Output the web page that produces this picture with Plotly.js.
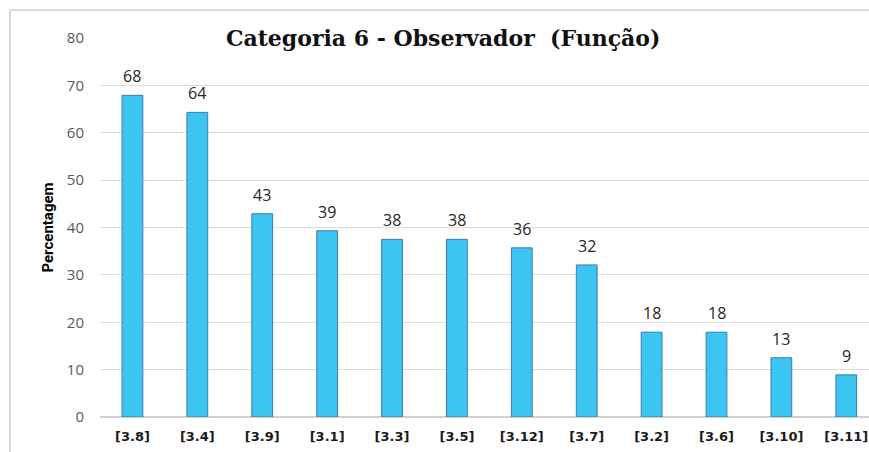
<!DOCTYPE html>
<html>
<head>
<meta charset="utf-8">
<script src="https://cdn.plot.ly/plotly-3.0.1.min.js"></script>
<style>
html,body{margin:0;padding:0;background:#fff;overflow:hidden;}
#chart{width:869px;height:452px;}
</style>
</head>
<body>
<div id="chart"></div>
<script>
var codes = ['[3.8]','[3.4]','[3.9]','[3.1]','[3.3]','[3.5]','[3.12]','[3.7]','[3.2]','[3.6]','[3.10]','[3.11]'];
var percent = [67.9, 64.3, 42.9, 39.3, 37.5, 37.5, 35.7, 32.1, 17.9, 17.9, 12.5, 8.9];
var shown = ['68','64','43','39','38','38','36','32','18','18','13','9'];

var bars = {
  x: codes,
  y: percent,
  type: 'bar',
  width: 0.32,
  marker: {color: '#3BC6F1', line: {color: '#3F78B0', width: 1}},
  hoverinfo: 'none'
};

// value labels above each bar
var labels = codes.map(function(c, i){
  return {
    x: c, y: percent[i], xref: 'x', yref: 'y',
    text: shown[i], showarrow: false,
    yanchor: 'bottom', yshift: 6,
    font: {family: 'Open Sans, sans-serif', size: 16, color: '#262626'}
  };
});

var layout = {
  width: 869,
  height: 452,
  margin: {l: 100, r: 0, t: 38, b: 35},
  paper_bgcolor: '#fff',
  plot_bgcolor: '#fff',
  showlegend: false,
  title: {
    text: 'Categoria 6 - Observador  (Função)',
    font: {family: 'DejaVu Serif, serif', size: 22, color: '#111', weight: 'bold'},
    x: 0.51, xanchor: 'center', y: 0.915, yanchor: 'middle'
  },
  xaxis: {
    type: 'category',
    range: [-0.5, 11.35],
    showgrid: false,
    zeroline: false,
    showline: false,
    ticks: '',
    tickfont: {family: 'DejaVu Sans, sans-serif', size: 13, color: '#1a1a1a', weight: 'bold'},
    ticklabelstandoff: 10
  },
  yaxis: {
    range: [0, 80],
    dtick: 10,
    showgrid: true,
    gridcolor: '#dcdcdc',
    gridwidth: 1,
    zeroline: true,
    zerolinecolor: '#d0d0d0',
    zerolinewidth: 2,
    showline: false,
    ticks: '',
    tickfont: {family: 'Open Sans, sans-serif', size: 15, color: '#595959'},
    ticklabelstandoff: 15,
    title: {
      text: 'Percentagem',
      font: {family: 'Liberation Sans Narrow, Roboto, sans-serif', size: 15, color: '#000', weight: 'bold'},
      standoff: 9
    }
  },
  annotations: labels,
  shapes: [
    {type: 'line', xref: 'paper', yref: 'paper', x0: -0.117, x1: -0.117, y0: 1.074, y1: -0.1, line: {color: '#d9d9d9', width: 2}},
    {type: 'line', xref: 'paper', yref: 'paper', x0: -0.117, x1: 1.01, y0: 1.074, y1: 1.074, line: {color: '#d9d9d9', width: 2}}
  ]
};

Plotly.newPlot('chart', [bars], layout, {displayModeBar: false, staticPlot: true});
</script>
</body>
</html>
